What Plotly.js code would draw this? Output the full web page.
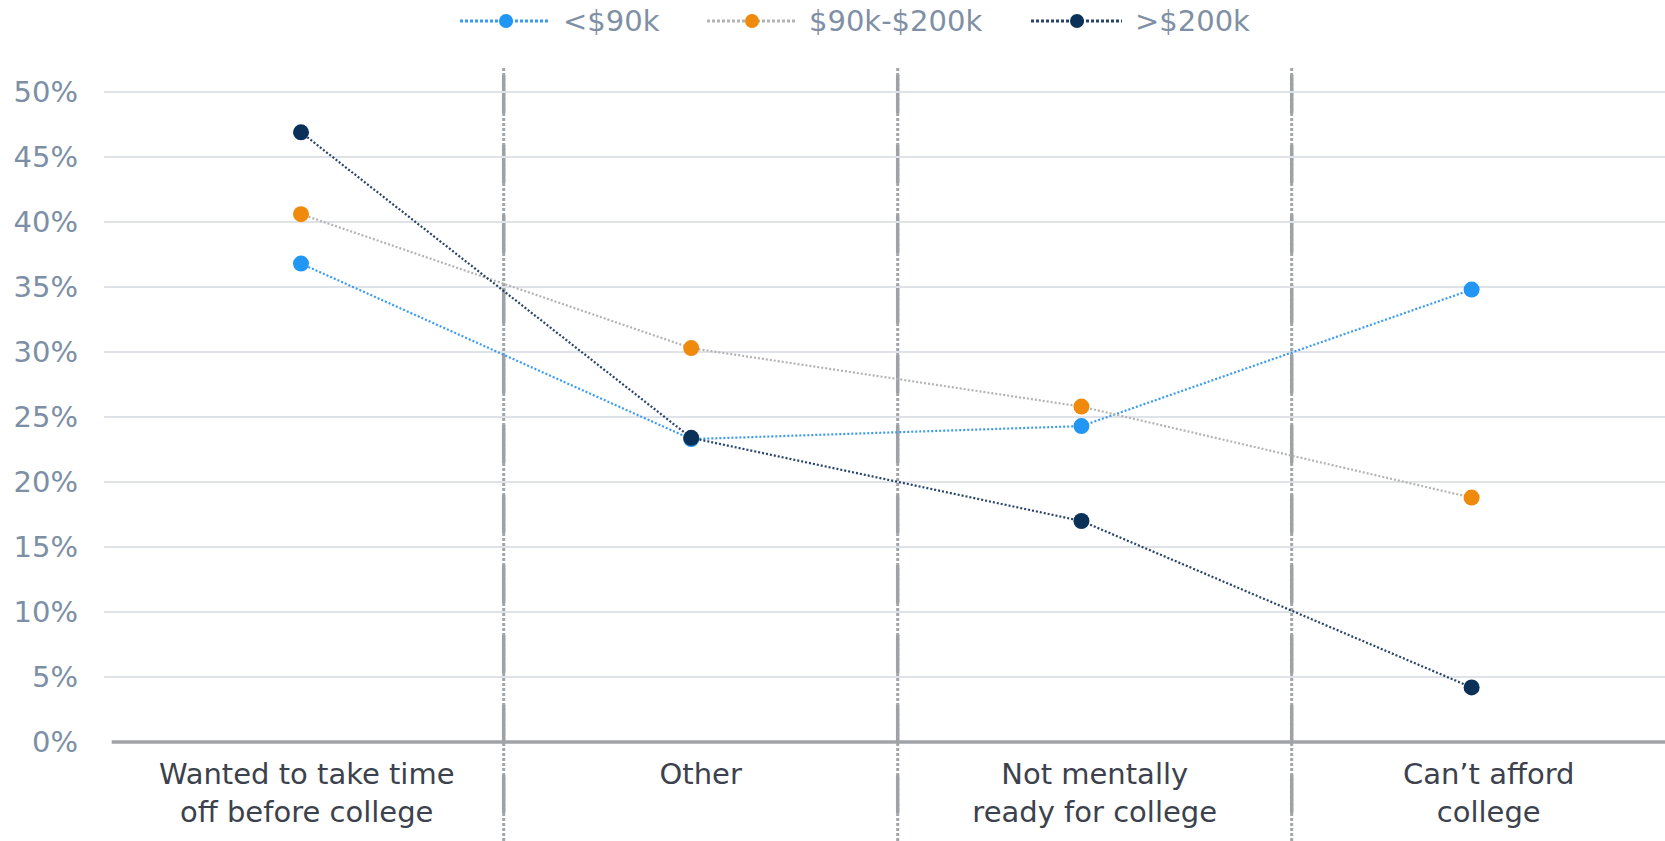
<!DOCTYPE html>
<html>
<head>
<meta charset="utf-8">
<script src="https://cdn.plot.ly/plotly-3.0.1.min.js"></script>
<style>
  html, body { margin: 0; padding: 0; background: #ffffff; }
  #chart { width: 1665px; height: 841px; }
</style>
</head>
<body>
<div id="chart"></div>
<script>
// Reasons for not going straight to college, by household income
const categories = [
  "Wanted to take time<br>off before college",
  "Other",
  "Not mentally<br>ready for college",
  "Can’t afford<br>college"
];
const seriesNames = ["<$90k", "$90k-$200k", ">$200k"];
const under90k = [36.8, 23.3, 24.3, 34.8];
const mid90to200k = [40.6, 30.3, 25.8, 18.8];
const over200k = [46.9, 23.4, 17.0, 4.2];
const yTickVals = [0, 5, 10, 15, 20, 25, 30, 35, 40, 45, 50];
const yTickText = ["0%", "5%", "10%", "15%", "20%", "25%", "30%", "35%", "40%", "45%", "50%"];

// styling
const markerColors = ["#2196F3", "#EF8A0C", "#0C3159"];
const lineColors = ["#3A9BF2", "#B3B3B3", "#28426A"];
const FONT = "Verdana, 'DejaVu Sans', sans-serif";
const FS = 29;

const W = 1665, H = 841;
const M = { l: 104, r: 0, t: 69, b: 99 };
const plotW = W - M.l - M.r, plotH = H - M.t - M.b;
// category band axis (labels and separators) and point axis
const xBandRange = [-0.5145, 3.4475];
const xPointRange = [-0.5049, 3.4956];
const yRange = [0, 51.77];

// pixel -> paper helpers for items drawn outside the plot area
const px = v => (v - M.l) / plotW;
const py = v => (H - M.b - v) / plotH;
const bandToPaper = v => (v - xBandRange[0]) / (xBandRange[1] - xBandRange[0]);

const seriesValues = [under90k, mid90to200k, over200k];
const traces = seriesValues.map((vals, i) => ({
  type: "scatter",
  mode: "lines+markers",
  name: seriesNames[i],
  x: categories,
  y: vals,
  xaxis: "x2",
  yaxis: "y",
  line: { color: lineColors[i], width: 2.2, dash: "2px,2px" },
  marker: { color: markerColors[i], size: 16 },
  showlegend: false,
  cliponaxis: false,
  hoverinfo: "skip"
}));
// empty trace that keeps the labelled band axis active
traces.unshift({
  type: "scatter", mode: "markers",
  x: categories.map((_, i) => i), y: categories.map(() => null),
  xaxis: "x", yaxis: "y", showlegend: false, hoverinfo: "skip"
});

const shapes = [];
// vertical separators between categories: solid dashes over a dotted line
[0.5, 1.5, 2.5].forEach(b => {
  const xp = bandToPaper(b);
  shapes.push({ type: "line", xref: "paper", yref: "paper", x0: xp, x1: xp,
    y0: py(68), y1: py(H), line: { color: "#A2A5A9", width: 3, dash: "3px,2px" }, layer: "below" });
  shapes.push({ type: "line", xref: "paper", yref: "paper", x0: xp, x1: xp,
    y0: py(75), y1: py(H), line: { color: "#9EA1A5", width: 3.5, dash: "38px,32px" }, layer: "below" });
});
// baseline
shapes.push({ type: "line", xref: "paper", yref: "paper", x0: bandToPaper(-0.495), x1: 1,
  y0: 0, y1: 0, line: { color: "#A0A3A7", width: 3.5 }, layer: "above" });

// legend row
const annotations = [];
const legendY = 21;
const legendItems = [
  { x0: 460, x1: 550, cx: 506, tx: 561 },
  { x0: 707, x1: 796, cx: 752, tx: 807 },
  { x0: 1031, x1: 1122, cx: 1077, tx: 1133 }
];
legendItems.forEach((it, i) => {
  shapes.push({ type: "line", xref: "paper", yref: "paper",
    x0: px(it.x0), x1: px(it.x1), y0: py(legendY), y1: py(legendY),
    line: { color: lineColors[i], width: 3, dash: "3px,2px" } });
  const r = 7;
  shapes.push({ type: "circle", xref: "paper", yref: "paper",
    x0: px(it.cx - r), x1: px(it.cx + r), y0: py(legendY + r), y1: py(legendY - r),
    fillcolor: markerColors[i], line: { width: 0 } });
  annotations.push({ xref: "paper", yref: "paper", x: px(it.tx), y: py(legendY),
    xanchor: "left", yanchor: "middle", showarrow: false,
    text: seriesNames[i].replace("<", "&lt;").replace(">", "&gt;"),
    font: { family: FONT, size: FS, color: "#7F90A5" } });
});

const layout = {
  width: W, height: H,
  margin: M,
  paper_bgcolor: "#ffffff",
  plot_bgcolor: "#ffffff",
  showlegend: false,
  font: { family: FONT, size: FS, color: "#7F90A5" },
  xaxis: {
    type: "linear",
    range: xBandRange,
    tickvals: categories.map((_, i) => i),
    ticktext: categories,
    showgrid: false, zeroline: false, showline: false,
    ticks: "", ticklabelstandoff: 12,
    tickfont: { family: FONT, size: FS, color: "#3C424D" },
    fixedrange: true
  },
  xaxis2: {
    type: "category",
    overlaying: "x",
    anchor: "y",
    range: xPointRange,
    categoryorder: "array",
    categoryarray: categories,
    visible: false,
    fixedrange: true
  },
  yaxis: {
    range: yRange,
    tickvals: yTickVals,
    ticktext: yTickText,
    showgrid: true, gridcolor: "#DFE3E8", gridwidth: 2,
    zeroline: false, showline: false,
    ticks: "", ticklabelstandoff: 25,
    tickfont: { family: FONT, size: FS, color: "#7D8FA5" },
    fixedrange: true
  },
  shapes: shapes,
  annotations: annotations
};

Plotly.newPlot("chart", traces, layout, { displayModeBar: false, staticPlot: true });
</script>
</body>
</html>
